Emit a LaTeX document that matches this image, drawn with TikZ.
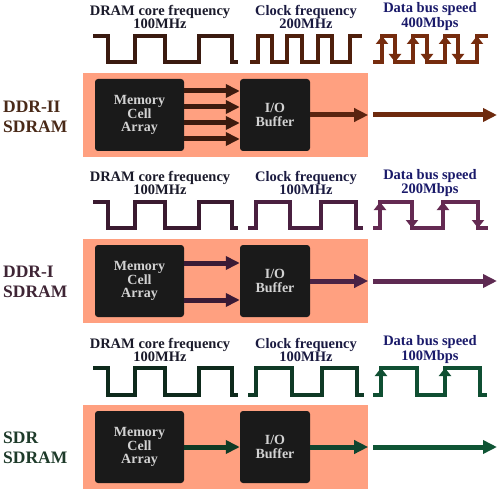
\documentclass[tikz,border=0pt]{standalone}
\usepackage{fontspec}
\setmainfont{Liberation Serif}
\usetikzlibrary{arrows.meta}
\definecolor{pinkc}{HTML}{FFA080}
\definecolor{boxc}{HTML}{1A1A1A}
\definecolor{boxtext}{HTML}{D2D2D2}
\definecolor{tcore}{HTML}{1A1A2A}
\definecolor{tclk}{HTML}{1A1A40}
\definecolor{tbus}{HTML}{1A1A6A}
% section 1 (brown)
\definecolor{aA}{HTML}{3A1A10}\definecolor{aB}{HTML}{4F1F0C}\definecolor{aC}{HTML}{762C0E}
\definecolor{aIn}{HTML}{3C1A0E}\definecolor{aOut}{HTML}{5A2410}\definecolor{aExt}{HTML}{6E2A0E}\definecolor{aLab}{HTML}{4A2A18}
% section 2 (plum)
\definecolor{bA}{HTML}{3A1A30}\definecolor{bB}{HTML}{4A2040}\definecolor{bC}{HTML}{642A52}
\definecolor{bIn}{HTML}{3A1A35}\definecolor{bOut}{HTML}{4A2245}\definecolor{bExt}{HTML}{5E2A52}\definecolor{bLab}{HTML}{3F2535}
% section 3 (green)
\definecolor{cA}{HTML}{0E2A1C}\definecolor{cB}{HTML}{0F3A26}\definecolor{cC}{HTML}{0F4F32}
\definecolor{cIn}{HTML}{0F3A25}\definecolor{cOut}{HTML}{0F4530}\definecolor{cExt}{HTML}{0F5535}\definecolor{cLab}{HTML}{1E3B2A}
\tikzset{
 pinkbox/.style={fill=pinkc, draw=none, minimum width=285pt, minimum height=84pt, inner sep=0pt},
 blackbox/.style={fill=boxc, rounded corners=3pt, draw=none, text=boxtext, font=\fontsize{14}{13.5}\selectfont\bfseries, align=center, inner sep=0pt, minimum height=72pt},
 ttl/.style={font=\fontsize{14.5}{13}\selectfont\bfseries, align=center, inner sep=0pt},
 side/.style={font=\fontsize{17.5}{20}\selectfont\bfseries, align=left, inner sep=0pt, anchor=west},
 wv/.style={line width=4.5pt, line join=miter},
 bigarrow/.style={line width=5pt, -{Triangle[length=14pt,width=13pt]}},
 edgearrow/.style={line width=4.5pt, -{Triangle[length=8pt,width=12pt]}},
}
\begin{document}
\begin{tikzpicture}[x=1pt,y=-1pt]
\useasboundingbox (0,0) rectangle (500,497);
\fill[white] (0,0) rectangle (500,497);

% ================= Section 1: DDR-II =================
\begin{scope}
\node[ttl, text=tcore] (t1a) at (160,16.5) {DRAM core frequency\\100MHz};
\node[ttl, text=tclk] (t1b) at (306,16.5) {Clock frequency\\200MHz};
\node[ttl, text=tbus] (t1c) at (430,16.5) {Data bus speed\\400Mbps};
\draw[wv, aA] (93,36) -- (108,36) -- (108,62) -- (135,62) -- (135,36) -- (165,36) -- (165,62) -- (199,62) -- (199,36) -- (232,36) -- (232,62) -- (238,62);
\draw[wv, aB] (250,62) -- (258,62) -- (258,36) -- (272,36) -- (272,62) -- (287,62) -- (287,36) -- (302,36) -- (302,62) -- (318,62) -- (318,36) -- (332,36) -- (332,62) -- (350,62) -- (350,36) -- (362,36);
\draw[wv, aC] (373,62) -- (382,62) -- (382,36) -- (395,36) -- (395,62) -- (413,62) -- (413,36) -- (427,36) -- (427,62) -- (445,62) -- (445,36) -- (458,36) -- (458,62) -- (477,62) -- (477,36) -- (488,36);
\foreach \u in {382,413,445,477} \draw[edgearrow, aC] (\u,60) -- (\u,36);
\foreach \d in {395,427,458} \draw[edgearrow, aC] (\d,38) -- (\d,62);
\node[pinkbox] (pk1) at (225.5,115) {};
\node[blackbox, minimum width=89pt] (mem1) at (139.5,115) {Memory\\Cell\\Array};
\node[blackbox, minimum width=70pt] (io1) at (275,115) {I/O\\Buffer};
\foreach \yy in {91,107,123,139} \draw[bigarrow, aIn] (mem1.east |- 0,\yy) -- (io1.west |- 0,\yy);
\draw[bigarrow, aOut] (io1.east) -- (pk1.east);
\coordinate (x1a) at (373,115);
\coordinate (x1b) at (497,115);
\draw[bigarrow, aExt] (x1a) -- (x1b);
\node[side, text=aLab] (lab1) at (3,117) {DDR-II\\SDRAM};
\end{scope}

% ================= Section 2: DDR-I =================
\begin{scope}[yshift=-166pt]
\node[ttl, text=tcore] (t2a) at (160,17) {DRAM core frequency\\100MHz};
\node[ttl, text=tclk] (t2b) at (306,17) {Clock frequency\\100MHz};
\node[ttl, text=tbus] (t2c) at (430,17) {Data bus speed\\200Mbps};
\draw[wv, bA] (93,36) -- (108,36) -- (108,62) -- (135,62) -- (135,36) -- (165,36) -- (165,62) -- (199,62) -- (199,36) -- (232,36) -- (232,62) -- (238,62);
\draw[wv, bB] (248,62) -- (256,62) -- (256,36) -- (290,36) -- (290,62) -- (321,62) -- (321,36) -- (356,36) -- (356,62) -- (363,62);
\draw[wv, bC] (373,62) -- (380,62) -- (380,36) -- (412,36) -- (412,62) -- (443,62) -- (443,36) -- (478,36) -- (478,62) -- (488,62);
\foreach \u in {380,443} \draw[edgearrow, bC] (\u,60) -- (\u,36);
\foreach \d in {412,478} \draw[edgearrow, bC] (\d,38) -- (\d,62);
\node[pinkbox] (pk2) at (225.5,115) {};
\node[blackbox, minimum width=89pt] (mem2) at (139.5,115) {Memory\\Cell\\Array};
\node[blackbox, minimum width=70pt] (io2) at (275,115) {I/O\\Buffer};
\foreach \yy in {97,134} \draw[bigarrow, bIn] (mem2.east |- 0,\yy) -- (io2.west |- 0,\yy);
\draw[bigarrow, bOut] (io2.east) -- (pk2.east);
\coordinate (x2a) at (373,115);
\coordinate (x2b) at (497,115);
\draw[bigarrow, bExt] (x2a) -- (x2b);
\node[side, text=bLab] (lab2) at (3,116) {DDR-I\\SDRAM};
\end{scope}

% ================= Section 3: SDR =================
\begin{scope}[yshift=-332pt]
\node[ttl, text=tcore] (t3a) at (160,17.5) {DRAM core frequency\\100MHz};
\node[ttl, text=tclk] (t3b) at (306,17.5) {Clock frequency\\100MHz};
\node[ttl, text=tbus] (t3c) at (430,17.5) {Data bus speed\\100Mbps};
\draw[wv, cA] (93,36) -- (108,36) -- (108,63) -- (135,63) -- (135,36) -- (165,36) -- (165,63) -- (199,63) -- (199,36) -- (232,36) -- (232,63) -- (238,63);
\draw[wv, cB] (248,63) -- (256,63) -- (256,36) -- (292,36) -- (292,63) -- (322,63) -- (322,36) -- (357,36) -- (357,63) -- (364,63);
\draw[wv, cC] (373,63) -- (381,63) -- (381,36) -- (417,36) -- (417,63) -- (445,63) -- (445,36) -- (480,36) -- (480,63) -- (487,63);
\foreach \u in {381,445} \draw[edgearrow, cC] (\u,61) -- (\u,36);
\node[pinkbox] (pk3) at (225.5,115) {};
\node[blackbox, minimum width=89pt] (mem3) at (139.5,115) {Memory\\Cell\\Array};
\node[blackbox, minimum width=70pt] (io3) at (275,115) {I/O\\Buffer};
\draw[bigarrow, cIn] (mem3.east) -- (io3.west);
\draw[bigarrow, cOut] (io3.east) -- (pk3.east);
\coordinate (x3a) at (373,115);
\coordinate (x3b) at (497,115);
\draw[bigarrow, cExt] (x3a) -- (x3b);
\node[side, text=cLab] (lab3) at (3,116) {SDR\\SDRAM};
\end{scope}
\end{tikzpicture}
\end{document}
